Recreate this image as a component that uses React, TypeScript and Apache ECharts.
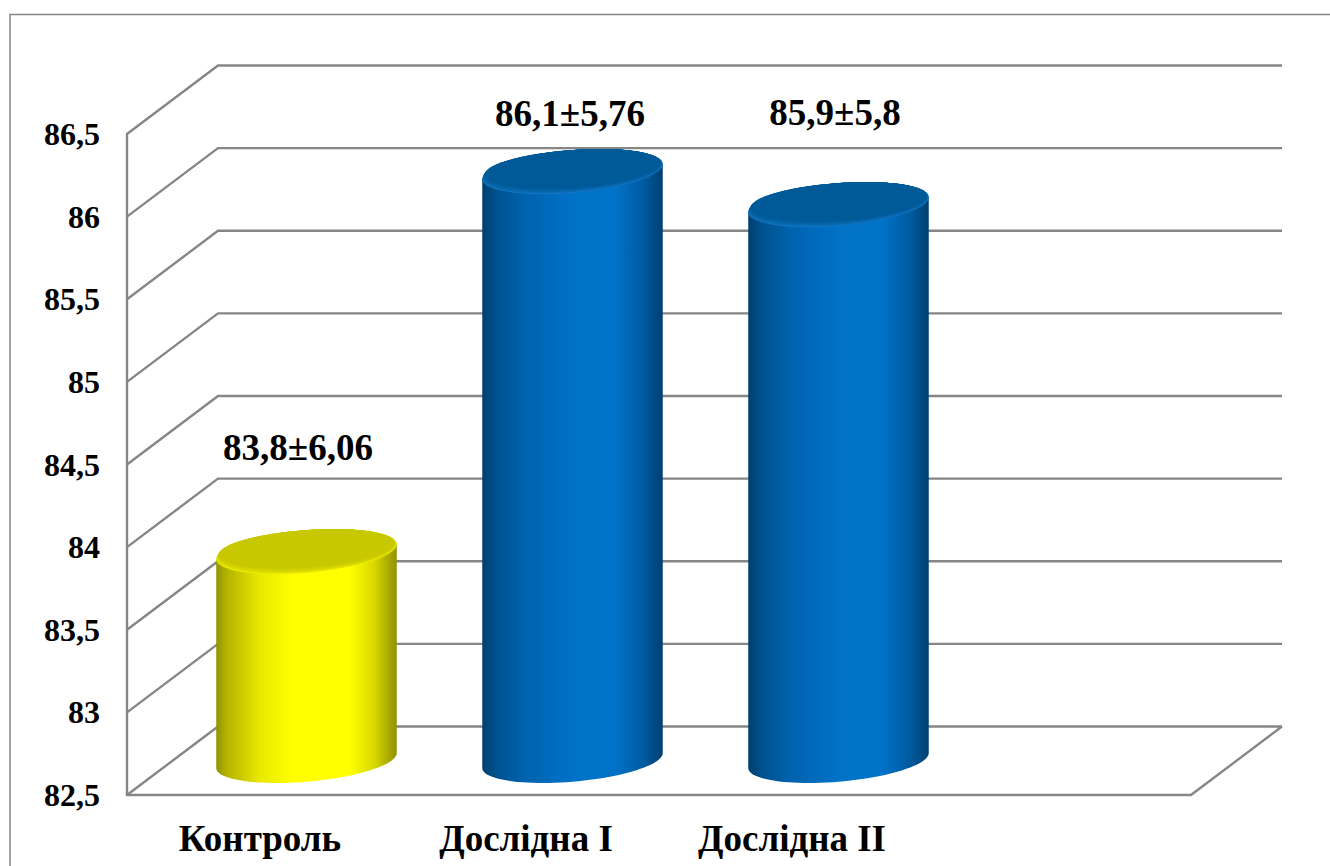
import React, { useEffect, useRef } from "react";
import * as echarts from "echarts";

const categories = ["Контроль", "Дослідна I", "Дослідна II", ""];
const values = [83.8, 86.1, 85.9];
const valueLabels = ["83,8±6,06", "86,1±5,76", "85,9±5,8"];
const gridTicks = [82.5, 83, 83.5, 84, 84.5, 85, 85.5, 86, 86.5];

// Where each value caption sits relative to the centre of its cylinder's top.
const captionOffsets = [
  [-8.5, -104],
  [-2.5, -58.5],
  [-3.5, -92.5],
];

const FONT = '"Liberation Serif", "Times New Roman", serif';
const LINE = "#868686";
const AXIS_MIN = 82.5;
const AXIS_MAX = 86.5;

// The floor recedes by this much from the front plane to the back wall.
const DEPTH_X = 91;
const DEPTH_Y = 68.5;

const yellowSide = [
  [0, "#929200"],
  [0.06, "#B4B400"],
  [0.24, "#E8E800"],
  [0.42, "#FFFF00"],
  [0.74, "#FFFF00"],
  [0.88, "#D6D600"],
  [1, "#909000"],
];
const blueSide = [
  [0, "#003F6E"],
  [0.08, "#00528F"],
  [0.24, "#0063AE"],
  [0.5, "#0072C8"],
  [0.74, "#0072C8"],
  [0.9, "#005A9E"],
  [1, "#003F6E"],
];
const barThemes = [
  { side: yellowSide, cap: "#C8C800", rim: "#F0F000" },
  { side: blueSide, cap: "#005A98", rim: "#1478C8" },
  { side: blueSide, cap: "#005A98", rim: "#1478C8" },
];

const mix = (a: string, b: string, t: number) => {
  const ch = (s: string, i: number) => parseInt(s.slice(1 + i * 2, 3 + i * 2), 16);
  const out = [0, 1, 2].map((i) =>
    Math.round(ch(a, i) + (ch(b, i) - ch(a, i)) * t)
      .toString(16)
      .padStart(2, "0")
  );
  return "#" + out.join("");
};

const renderWall = (params: any, api: any) => {
  const value = api.value(0);
  const sys = params.coordSys;
  const y = api.coord([0, value])[1];
  const backLeft = sys.x + DEPTH_X;
  const backRight = sys.x + sys.width + DEPTH_X;
  const children: any[] = [
    {
      type: "polyline",
      shape: {
        points: [
          [sys.x, y],
          [backLeft, y - DEPTH_Y],
          [backRight, y - DEPTH_Y],
        ],
      },
      style: { stroke: LINE, lineWidth: 2.4, fill: "none" },
    },
  ];
  if (value === AXIS_MIN) {
    children.push({
      type: "line",
      shape: { x1: sys.x + sys.width, y1: y, x2: backRight, y2: y - DEPTH_Y },
      style: { stroke: LINE, lineWidth: 2.4 },
    });
  }
  return { type: "group", children };
};

const renderCylinder = (params: any, api: any) => {
  const index = params.dataIndex;
  const theme = barThemes[index];
  const top = api.coord([api.value(0), api.value(1)]);
  const base = api.coord([api.value(0), AXIS_MIN]);
  const band = api.size([1, 0])[0];
  const cx = top[0] + 46.5;
  const cyTop = top[1] - 28.5;
  const cyBase = base[1] - 34.5;

  // Each end is a circle lying in the sheared floor plane. Passing `inset`
  // squeezes the ellipse towards its far edge, which stays where it is.
  const halfWidth = band * 0.32;
  const shearX = 30;
  const shearY = 22.5;
  const point = (cy: number, t: number, inset = 0) => {
    const squeeze = 1 - inset / (2 * shearY);
    return [
      cx + (halfWidth - inset * 0.25) * Math.cos(t) + shearX * squeeze * Math.sin(t),
      cy - inset - shearY * squeeze * Math.sin(t) + inset / 2,
    ];
  };
  const ring = (cy: number, inset = 0) =>
    Array.from({ length: 96 }, (_, i) => point(cy, (i / 96) * Math.PI * 2, inset));

  const tangent = Math.atan2(shearX, halfWidth);
  const lowerArc = Array.from({ length: 49 }, (_, i) =>
    point(cyBase, tangent - (i / 48) * Math.PI)
  );
  const body = [...lowerArc, point(cyTop, tangent - Math.PI), point(cyTop, tangent)];

  const children: any[] = [
    {
      type: "polygon",
      shape: { points: body },
      style: {
        fill: {
          type: "linear",
          x: 0,
          y: 0,
          x2: 1,
          y2: 0,
          colorStops: theme.side.map(([offset, color]) => ({ offset, color })),
        },
      },
    },
  ];

  // The rim fades from a light edge into the flat cap in a few concentric steps.
  const steps = 10;
  for (let i = 0; i <= steps; i++) {
    const f = i / steps;
    children.push({
      type: "polygon",
      shape: { points: ring(cyTop, 6 * f) },
      style: { fill: mix(theme.rim, theme.cap, Math.pow(f, 0.55)) },
    });
  }

  const [ox, oy] = captionOffsets[index];
  children.push({
    type: "text",
    style: {
      text: valueLabels[index],
      x: cx + ox,
      y: cyTop + oy,
      align: "center",
      verticalAlign: "middle",
      font: `bold 37px ${FONT}`,
      fill: "#000000",
    },
  });
  return { type: "group", children };
};

export default function App() {
  const ref = useRef<HTMLDivElement>(null);

  useEffect(() => {
    document.body.style.margin = "0";
    const chart = echarts.init(ref.current!, null, { renderer: "svg" });
    chart.setOption({
      animation: false,
      backgroundColor: "#FFFFFF",
      tooltip: { show: false },
      grid: { left: 127, top: 134, width: 1064, height: 661 },
      xAxis: {
        type: "category",
        data: categories,
        axisLine: { show: true, lineStyle: { color: LINE, width: 2.4 } },
        axisTick: { show: false },
        splitLine: { show: false },
        axisLabel: {
          margin: 25,
          interval: 0,
          color: "#000000",
          fontFamily: FONT,
          fontWeight: "bold",
          fontSize: 37,
        },
      },
      yAxis: {
        type: "value",
        min: AXIS_MIN,
        max: AXIS_MAX,
        interval: 0.5,
        axisLine: { show: true, lineStyle: { color: LINE, width: 2.4 } },
        axisTick: { show: false },
        splitLine: { show: false },
        axisLabel: {
          margin: 27,
          color: "#000000",
          fontFamily: FONT,
          fontWeight: "bold",
          fontSize: 32,
          padding: [2, 0, 0, 0],
          formatter: (v: number) => String(v).replace(".", ","),
        },
      },
      graphic: [
        {
          type: "polyline",
          silent: true,
          shape: {
            points: [
              [10, 866],
              [10, 14.5],
              [1330, 14.5],
            ],
          },
          style: { stroke: LINE, lineWidth: 1.5, fill: "none" },
        },
      ],
      series: [
        {
          type: "custom",
          z: 1,
          silent: true,
          clip: false,
          renderItem: renderWall,
          encode: { y: 0 },
          data: gridTicks.map((t) => [t]),
        },
        {
          type: "custom",
          z: 3,
          silent: true,
          clip: false,
          renderItem: renderCylinder,
          encode: { x: 0, y: 1 },
          data: values.map((v, i) => [i, v]),
        },
      ],
    });
    return () => chart.dispose();
  }, []);

  return (
    <div
      ref={ref}
      style={{ position: "absolute", left: 0, top: 0, width: 1330, height: 866 }}
    />
  );
}
